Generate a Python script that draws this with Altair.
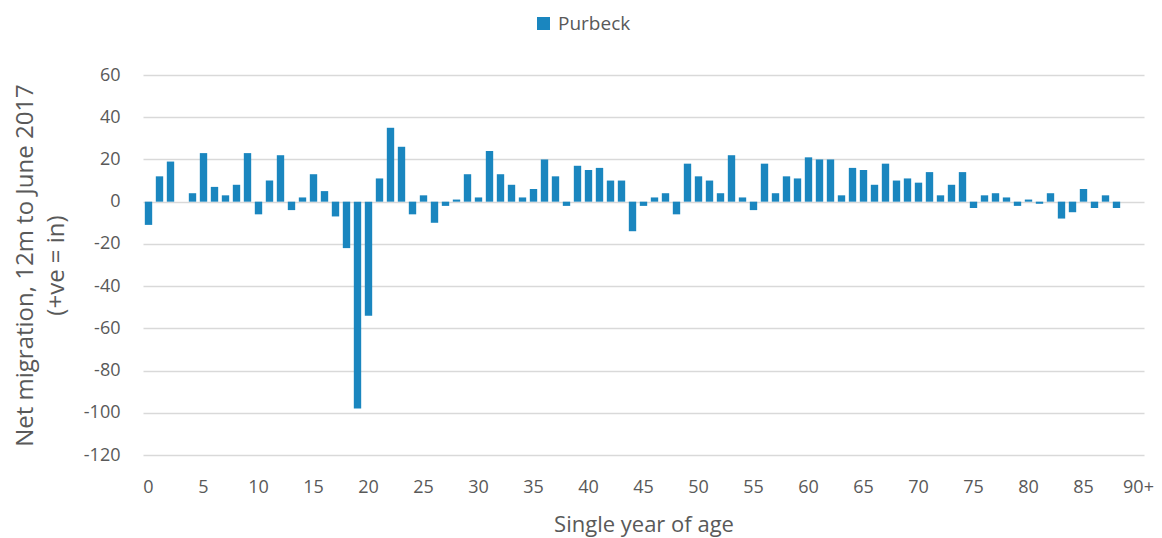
import altair as alt
import pandas as pd

ages = [str(i) for i in range(90)] + ["90+"]
net_migration = [
    -11, 12, 19, 0, 4, 23, 7, 3, 8, 23,
    -6, 10, 22, -4, 2, 13, 5, -7, -22, -98,
    -54, 11, 35, 26, -6, 3, -10, -2, 1, 13,
    2, 24, 13, 8, 2, 6, 20, 12, -2, 17,
    15, 16, 10, 10, -14, -2, 2, 4, -6, 18,
    12, 10, 4, 22, 2, -4, 18, 4, 12, 11,
    21, 20, 20, 3, 16, 15, 8, 18, 10, 11,
    9, 14, 3, 8, 14, -3, 3, 4, 2, -2,
    1, -1, 4, -8, -5, 6, -3, 3, -3, 0,
    0,
]
series = ["Purbeck"] * len(ages)
x_tick_labels = [str(i) for i in range(0, 90, 5)] + ["90+"]
y_ticks = [-120, -100, -80, -60, -40, -20, 0, 20, 40, 60]

df = pd.DataFrame({"age": ages, "value": net_migration, "area": series})

TEXT = "#595959"
GRID = "#d9d9d9"
FONT = "Open Sans"

chart = (
    alt.Chart(df)
    .mark_bar()
    .encode(
        x=alt.X(
            "age:N",
            sort=ages,
            scale=alt.Scale(paddingInner=0.33, paddingOuter=0.165),
            axis=alt.Axis(
                values=x_tick_labels,
                labelAngle=0,
                ticks=False,
                domain=False,
                grid=False,
                labelPadding=23,
                labelFontSize=18,
                labelColor=TEXT,
                labelFont=FONT,
                title="Single year of age",
                titleFontSize=22,
                titleFontWeight="normal",
                titleColor=TEXT,
                titleFont=FONT,
                titleBaseline="alphabetic",
                titleY=76,
            ),
        ),
        y=alt.Y(
            "value:Q",
            scale=alt.Scale(domain=[-120, 60], nice=False, zero=True),
            axis=alt.Axis(
                values=y_ticks,
                labelExpr="'' + datum.value",
                ticks=False,
                domain=False,
                grid=True,
                gridColor=GRID,
                gridWidth=1.4,
                labelPadding=23,
                labelFontSize=18,
                labelColor=TEXT,
                labelFont=FONT,
                title=["Net migration, 12m to June 2017", "(+ve = in)"],
                titleFontSize=24,
                titleFontWeight="normal",
                titleColor=TEXT,
                titleFont=FONT,
                titleLineHeight=31,
                titleAngle=270,
                titleAlign="center",
                titleBaseline="alphabetic",
                titleX=-111,
                titleY=190,
            ),
        ),
        color=alt.Color(
            "area:N",
            scale=alt.Scale(domain=["Purbeck"], range=["#1a86bf"]),
            legend=alt.Legend(
                title=None,
                orient="none",
                legendX=391,
                legendY=-61,
                symbolType="square",
                symbolSize=169,
                symbolStrokeWidth=0,
                labelFontSize=19,
                labelColor=TEXT,
                labelFont=FONT,
                labelOffset=5,
                padding=0,
            ),
        ),
    )
    .properties(
        width=1001,
        height=380,
        autosize=alt.AutoSizeParams(type="none"),
        padding={"left": 135, "top": 67, "right": 10, "bottom": 83},
    )
    .configure_view(stroke=None)
)

chart.save("out.html", embed_options={"renderer": "svg", "actions": False})
